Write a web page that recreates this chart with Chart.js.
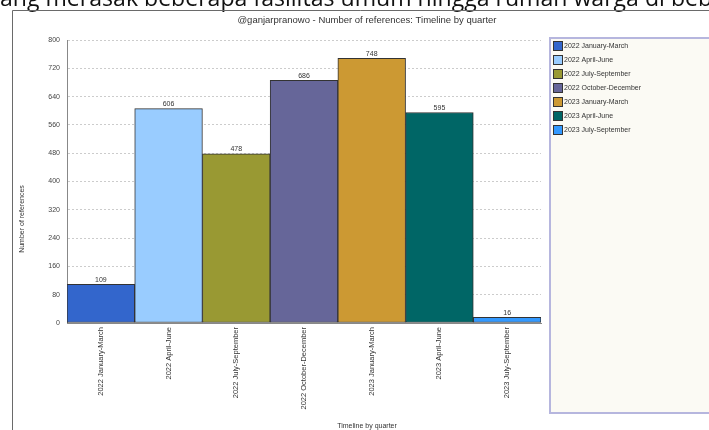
<!DOCTYPE html>
<html>
<head>
<meta charset="utf-8">
<script src="https://cdn.jsdelivr.net/npm/chart.js@4/dist/chart.umd.min.js"></script>
<style>
  html, body { margin: 0; padding: 0; background: #ffffff; }
  #wrap { width: 709px; height: 430px; position: relative; }
</style>
</head>
<body>
<div id="wrap"><canvas id="c" width="709" height="430"></canvas></div>
<script>
// Quarters and reference counts
const quarters = [
  '2022 January-March', '2022 April-June', '2022 July-September',
  '2022 October-December', '2023 January-March', '2023 April-June',
  '2023 July-September'
];
const references = [109, 606, 478, 686, 748, 595, 16];
const barColors = ['#3366cc', '#99ccff', '#999933', '#666699', '#cc9933', '#006666', '#3399ff'];
const yTicks = [0, 80, 160, 240, 320, 400, 480, 560, 640, 720, 800];

const chartTitle = '@ganjarpranowo - Number of references: Timeline by quarter';
const xTitle = 'Timeline by quarter';
const yTitle = 'Number of references';
const docLine = 'ang merasak beberapa fasilitas umum hingga rumah warga di beb';

const FONT = '"Liberation Sans", Arial, sans-serif';

// Page furniture: document line, frame, titles, legend panel
const framePlugin = {
  id: 'frame',
  beforeDraw(chart) {
    const ctx = chart.ctx;
    ctx.save();
    ctx.fillStyle = '#ffffff';
    ctx.fillRect(0, 0, chart.width, chart.height);

    // running document text above the figure, sized to span the page width
    ctx.fillStyle = '#111111';
    ctx.font = '20px "Open Sans", "Noto Sans", sans-serif';
    const w = ctx.measureText(docLine).width;
    const size = 20 * 712 / w;
    ctx.font = size.toFixed(2) + 'px "Open Sans", "Noto Sans", sans-serif';
    ctx.textBaseline = 'alphabetic';
    ctx.textAlign = 'left';
    ctx.fillText(docLine, 0, 6);

    // figure frame
    ctx.strokeStyle = '#6a6a6a';
    ctx.lineWidth = 1;
    ctx.beginPath();
    ctx.moveTo(12.5, chart.height);
    ctx.lineTo(12.5, 10.5);
    ctx.lineTo(chart.width, 10.5);
    ctx.stroke();

    // chart title
    ctx.fillStyle = '#333333';
    ctx.font = '9.5px ' + FONT;
    ctx.textAlign = 'center';
    ctx.textBaseline = 'middle';
    ctx.fillText(chartTitle, 367, 20);

    // axis titles
    ctx.font = '7px ' + FONT;
    ctx.fillText(xTitle, 367, 426);
    ctx.save();
    ctx.translate(22, 219);
    ctx.rotate(-Math.PI / 2);
    ctx.fillText(yTitle, 0, 0);
    ctx.restore();

    // legend panel
    ctx.fillStyle = '#fbfaf4';
    ctx.fillRect(549, 37, 170, 376);
    ctx.strokeStyle = '#b6b6de';
    ctx.lineWidth = 2;
    ctx.strokeRect(550, 38, 170, 375);

    ctx.font = '7px ' + FONT;
    ctx.textAlign = 'left';
    ctx.textBaseline = 'middle';
    quarters.forEach((q, i) => {
      const y = 41 + i * 14;
      ctx.fillStyle = barColors[i];
      ctx.fillRect(553, y, 10, 10);
      ctx.strokeStyle = '#333333';
      ctx.lineWidth = 1;
      ctx.strokeRect(553.5, y + 0.5, 9, 9);
      ctx.fillStyle = '#333333';
      ctx.fillText(q, 564, y + 5.5);
    });
    ctx.restore();
  },
  afterDatasetsDraw(chart) {
    // value labels above each bar
    const ctx = chart.ctx;
    const meta = chart.getDatasetMeta(0);
    ctx.save();
    ctx.fillStyle = '#333333';
    ctx.font = '7px ' + FONT;
    ctx.textAlign = 'center';
    ctx.textBaseline = 'bottom';
    meta.data.forEach((bar, i) => {
      ctx.fillText(String(references[i]), bar.x, bar.y - 1);
    });
    ctx.restore();
  }
};

new Chart(document.getElementById('c'), {
  type: 'bar',
  data: {
    labels: quarters,
    datasets: [{
      data: references,
      backgroundColor: barColors,
      borderColor: '#333333',
      borderWidth: 1,
      borderSkipped: false,
      categoryPercentage: 1.0,
      barPercentage: 1.0
    }]
  },
  options: {
    responsive: false,
    animation: false,
    devicePixelRatio: 1,
    layout: { padding: { left: 12, right: 168, top: 40, bottom: 0 } },
    plugins: {
      legend: { display: false },
      title: { display: false },
      tooltip: { enabled: false }
    },
    scales: {
      x: {
        offset: true,
        grid: { display: false, drawTicks: false },
        border: { display: true, color: '#888888', width: 1 },
        ticks: {
          minRotation: 90, maxRotation: 90, autoSkip: false,
          padding: 4,
          color: '#333333',
          font: { family: FONT, size: 7.5 }
        },
        afterFit(scale) { scale.height = 107; }
      },
      y: {
        min: 0, max: 800,
        afterBuildTicks(scale) { scale.ticks = yTicks.map(v => ({ value: v })); },
        grid: { color: '#cccccc', drawTicks: false, lineWidth: 1 },
        border: { display: true, color: '#888888', width: 1, dash: [2, 2] },
        ticks: {
          padding: 7,
          color: '#444444',
          font: { family: FONT, size: 7 }
        },
        afterFit(scale) { scale.width = 55; }
      }
    }
  },
  plugins: [framePlugin]
});
</script>
</body>
</html>
